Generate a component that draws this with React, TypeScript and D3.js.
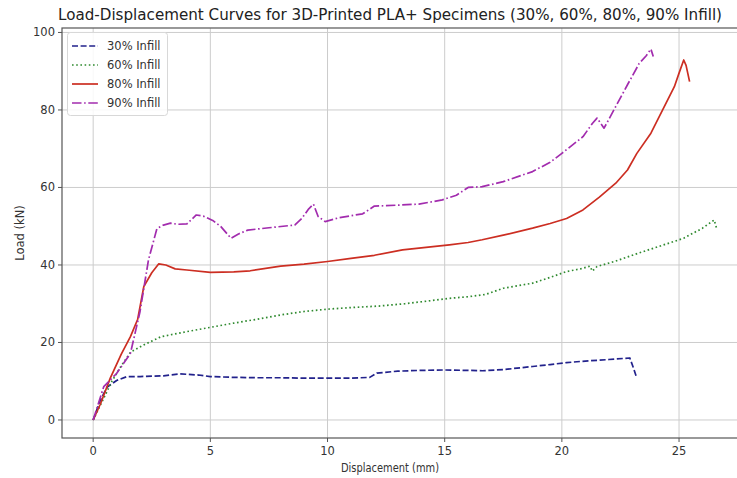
import React from "react";
import * as d3 from "d3";

// Displacement (mm) / load (kN) samples for each infill density
const x30 = [0, 0.3, 0.6, 1.0, 1.44, 2.0, 3.0, 3.7, 4.5, 5.0, 6.0, 7.0, 8.0, 9.0, 10.0, 11.0, 11.8, 12.1, 13.0, 14.0, 15.0, 16.0, 16.6, 17.5, 18.75, 19.5, 20.2, 21.0, 22.0, 22.9, 23.05, 23.2];
const y30 = [0, 5, 8.5, 10.2, 11.2, 11.2, 11.4, 11.9, 11.6, 11.2, 11.0, 10.9, 10.9, 10.8, 10.8, 10.8, 11.0, 12.1, 12.6, 12.8, 12.9, 12.8, 12.7, 13.0, 13.8, 14.3, 14.8, 15.2, 15.6, 16.0, 13.5, 10.8];

const x60 = [0, 0.4, 0.8, 1.2, 1.6, 2.2, 2.9, 4.0, 5.0, 6.0, 7.0, 8.0, 9.0, 10.0, 11.0, 12.2, 13.3, 14.3, 15.2, 16.0, 16.75, 17.5, 18.75, 19.5, 20.2, 20.8, 21.2, 21.3, 21.5, 22.3, 23.05, 24.0, 25.2, 26.0, 26.5, 26.6];
const y60 = [0, 5, 10, 14, 17.5, 19.5, 21.5, 22.8, 23.9, 25, 26, 27.1, 28, 28.6, 29, 29.4, 30, 30.7, 31.4, 31.8, 32.4, 34, 35.3, 36.8, 38.3, 39, 39.7, 38.4, 39.6, 41, 42.6, 44.5, 46.9, 49.5, 51.6, 49.5];

const x80 = [0, 0.3, 0.73, 1.2, 1.59, 1.9, 2.16, 2.5, 2.8, 3.1, 3.5, 4.0, 5.0, 6.0, 6.7, 8.0, 9.0, 10.0, 11.0, 12.0, 13.2, 14.0, 15.2, 16.0, 16.6, 17.5, 18.75, 19.5, 20.2, 20.9, 21.6, 22.3, 22.8, 23.2, 23.8, 24.3, 24.8, 25.0, 25.2, 25.3, 25.45];
const y80 = [0, 4, 10.8, 17, 21.5, 26, 34.4, 38, 40.3, 40.0, 39, 38.7, 38.1, 38.2, 38.5, 39.7, 40.2, 40.9, 41.7, 42.5, 43.9, 44.4, 45.2, 45.8, 46.5, 47.7, 49.5, 50.7, 52, 54.2, 57.5, 61.1, 64.5, 68.8, 74, 80, 86, 89.5, 92.9, 91.5, 87.3];

const x90 = [0, 0.45, 1.0, 1.59, 2.0, 2.36, 2.72, 3.0, 3.3, 3.6, 4.0, 4.4, 4.7, 5.1, 5.45, 5.88, 6.2, 6.6, 7.5, 8.6, 8.9, 9.2, 9.4, 9.6, 9.9, 10.5, 11.5, 12.0, 12.5, 13.9, 14.9, 15.5, 16.0, 16.6, 17.5, 18.75, 19.5, 20.0, 20.9, 21.3, 21.5, 21.8, 22.3, 22.8, 23.3, 23.6, 23.8, 23.9];
const y90 = [0, 8.6, 12, 17.2, 28, 41.3, 49.4, 50.3, 50.8, 50.5, 50.6, 52.9, 52.6, 51.5, 49.9, 46.9, 48, 49, 49.6, 50.3, 52, 54.5, 55.7, 52.5, 51.2, 52.2, 53.2, 55.2, 55.3, 55.7, 56.8, 58, 60, 60.2, 61.5, 64.1, 66.5, 68.8, 73.1, 76.5, 77.9, 75.3, 80.9, 86.5, 92, 94, 95.7, 93.8];

const seriesLabels = ["30% Infill", "60% Infill", "80% Infill", "90% Infill"];
const xTicks = [0, 5, 10, 15, 20, 25];
const yTicks = [0, 20, 40, 60, 80, 100];

const W = 737;
const H = 478;
const FONT = "DejaVu Sans, sans-serif";

const styles = [
  { color: "#22228c", dash: "6,2.6", width: 1.7 },
  { color: "#2f8a2f", dash: "1.6,2.6", width: 1.7 },
  { color: "#cc2e22", dash: "", width: 1.7 },
  { color: "#a22cae", dash: "9.5,2.6,1.6,2.6", width: 1.7 },
];

export default function App() {
  const x = d3.scaleLinear().domain([-1.33, 27.9]).range([62, 747]);
  const y = d3.scaleLinear().domain([-4.65, 101.15]).range([438, 28]);

  const series = [
    { xs: x30, ys: y30 },
    { xs: x60, ys: y60 },
    { xs: x80, ys: y80 },
    { xs: x90, ys: y90 },
  ];

  const line = d3
    .line<[number, number]>()
    .x((d) => x(d[0]))
    .y((d) => y(d[1]))
    .curve(d3.curveLinear);

  const left = 62;
  const right = 747;
  const top = 28;
  const bottom = 438;

  return (
    <svg
      width={W}
      height={H}
      style={{ position: "absolute", left: 0, top: 0, background: "#fff" }}
      fontFamily={FONT}
    >
      <defs>
        <clipPath id="plot">
          <rect x={left} y={top} width={right - left} height={bottom - top} />
        </clipPath>
      </defs>
      <rect x={0} y={0} width={W} height={H} fill="#fff" />

      {/* grid */}
      {xTicks.map((t) => (
        <line key={"gx" + t} x1={x(t)} x2={x(t)} y1={top} y2={bottom} stroke="#cccccc" strokeWidth={1} />
      ))}
      {yTicks.map((t) => (
        <line key={"gy" + t} x1={left} x2={right} y1={y(t)} y2={y(t)} stroke="#cccccc" strokeWidth={1} />
      ))}

      {/* curves */}
      <g clipPath="url(#plot)">
        {series.map((s, i) => (
          <path
            key={i}
            d={line(s.xs.map((v, j) => [v, s.ys[j]] as [number, number])) || ""}
            fill="none"
            stroke={styles[i].color}
            strokeWidth={styles[i].width}
            strokeDasharray={styles[i].dash || undefined}
            strokeLinejoin="round"
          />
        ))}
      </g>

      {/* spines */}
      <rect x={left} y={top} width={right - left} height={bottom - top} fill="none" stroke="#555" strokeWidth={1.2} />

      {/* x ticks */}
      {xTicks.map((t) => (
        <g key={"tx" + t}>
          <line x1={x(t)} x2={x(t)} y1={bottom} y2={bottom + 4} stroke="#555" strokeWidth={1} />
          <text x={x(t)} y={bottom + 17} textAnchor="middle" fontSize={11.5} fill="#333">
            {t}
          </text>
        </g>
      ))}
      {/* y ticks */}
      {yTicks.map((t) => (
        <g key={"ty" + t}>
          <line x1={left - 4} x2={left} y1={y(t)} y2={y(t)} stroke="#555" strokeWidth={1} />
          <text x={left - 7} y={y(t) + 4} textAnchor="end" fontSize={11.5} fill="#333">
            {t}
          </text>
        </g>
      ))}

      {/* axis labels */}
      <text x={390} y={472} textAnchor="middle" fontSize={11.5} fill="#333" textLength={98} lengthAdjust="spacingAndGlyphs">
        Displacement (mm)
      </text>
      <text transform={`translate(24,233) rotate(-90)`} textAnchor="middle" fontSize={11.5} fill="#333">
        Load (kN)
      </text>

      {/* title */}
      <text x={390} y={20} textAnchor="middle" fontSize={15} fill="#222" textLength={664} lengthAdjust="spacingAndGlyphs">
        Load-Displacement Curves for 3D-Printed PLA+ Specimens (30%, 60%, 80%, 90% Infill)
      </text>

      {/* legend */}
      <g>
        <rect x={67.5} y={32.5} width={100} height={83} rx={3} fill="#fff" fillOpacity={0.85} stroke="#d8d8d8" strokeWidth={1} />
        {seriesLabels.map((lab, i) => {
          const cy = 46 + i * 19;
          return (
            <g key={lab}>
              <line
                x1={72}
                x2={98}
                y1={cy}
                y2={cy}
                stroke={styles[i].color}
                strokeWidth={styles[i].width}
                strokeDasharray={styles[i].dash || undefined}
              />
              <text x={107} y={cy + 4} fontSize={11.5} fill="#333">
                {lab}
              </text>
            </g>
          );
        })}
      </g>
    </svg>
  );
}
